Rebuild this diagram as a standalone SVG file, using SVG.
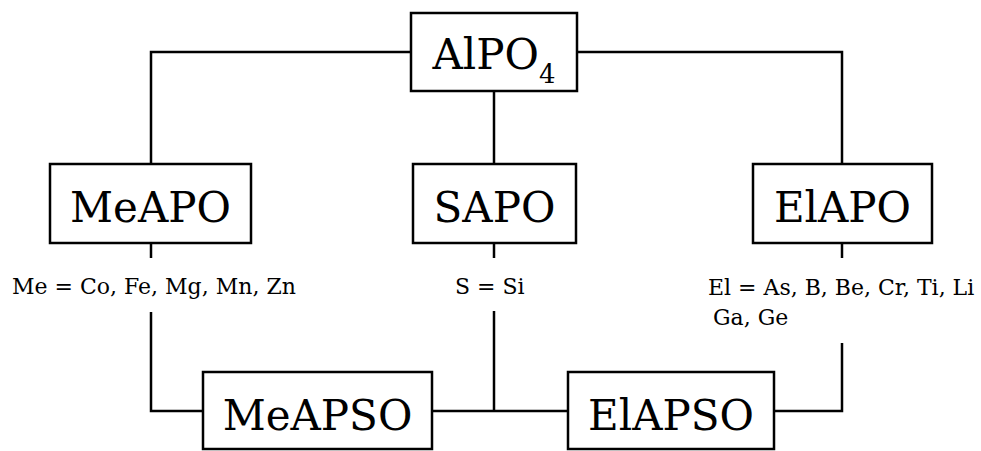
<svg xmlns="http://www.w3.org/2000/svg" width="981" height="451" viewBox="0 0 981 451">
<style>
.box{fill:#fff;stroke:#000;stroke-width:2.5}
.big{font-family:'DejaVu Serif',serif;font-size:42px;fill:#000;text-anchor:middle}
.lbl{font-family:'DejaVu Serif',serif;font-size:22px;fill:#000}
.con{fill:none;stroke:#000;stroke-width:2.5}
</style>
<rect width="981" height="451" fill="#fff"/>
<g id="connectors">
<path class="con" d="M151,164 V52 H411"/>
<path class="con" d="M577,52 H842 V164"/>
<path class="con" d="M494,91 V164"/>
<path class="con" d="M151,243 V258"/>
<path class="con" d="M151,312 V411 H203"/>
<path class="con" d="M494,243 V258"/>
<path class="con" d="M494,311 V411"/>
<path class="con" d="M432,411 H568"/>
<path class="con" d="M842,243 V258"/>
<path class="con" d="M842,343 V411 H774"/>
</g>
<g id="alpo4">
<rect class="box" x="411" y="13" width="166" height="78"/>
<text class="big" x="494" y="69">AlPO<tspan font-size="26" dy="14">4</tspan></text>
</g>
<g id="meapo">
<rect class="box" x="50" y="164" width="201" height="79"/>
<text class="big" x="150.5" y="222">MeAPO</text>
<text class="lbl" x="12" y="294">Me = Co, Fe, Mg, Mn, Zn</text>
</g>
<g id="sapo">
<rect class="box" x="413" y="164" width="163" height="79"/>
<text class="big" x="494.5" y="222">SAPO</text>
<text class="lbl" x="455" y="294">S = Si</text>
</g>
<g id="elapo">
<rect class="box" x="753" y="164" width="179" height="79"/>
<text class="big" x="842.5" y="222">ElAPO</text>
<text class="lbl" x="708" y="295">El = As, B, Be, Cr, Ti, Li</text>
<text class="lbl" x="713" y="325">Ga, Ge</text>
</g>
<g id="meapso">
<rect class="box" x="203" y="372" width="229" height="77"/>
<text class="big" x="317.5" y="430">MeAPSO</text>
</g>
<g id="elapso">
<rect class="box" x="568" y="372" width="206" height="77"/>
<text class="big" x="671" y="430">ElAPSO</text>
</g>
</svg>
